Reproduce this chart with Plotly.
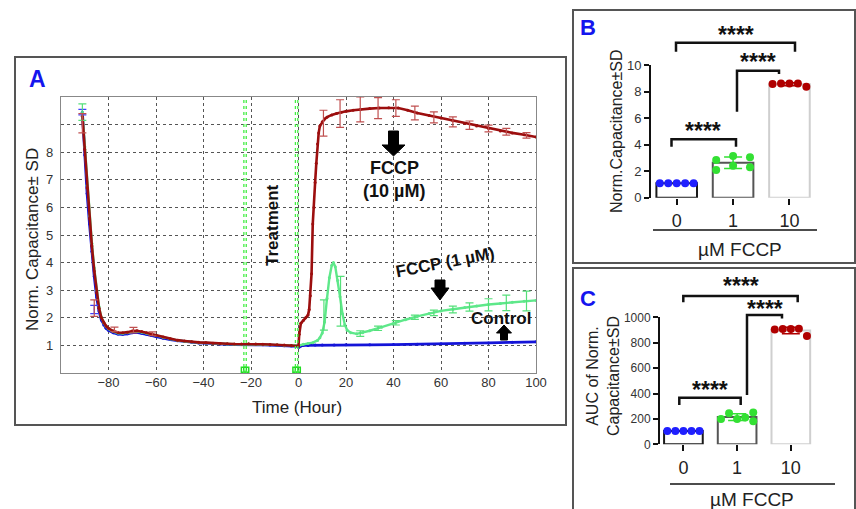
import numpy as np
import plotly.graph_objects as go

W, H = 856, 509
FONT = "Liberation Sans, Arial, sans-serif"

# ---------------- Panel A data (time in hours, normalized capacitance) ----------------
TIME_PRE = [-91, -90, -89, -88, -87, -86, -85, -84, -83, -82, -81, -80,
            -78, -76, -74, -72, -70, -68, -66, -64, -62, -60,
            -57, -54, -51, -48, -45, -42, -39, -36, -33, -30, -27, -24, -21, -18, -15, -12, -9, -6, -3, 0]
RED_PRE = [9.3, 8.1, 6.7, 5.6, 4.6, 3.7, 2.9, 2.35, 2.0, 1.82, 1.7, 1.62,
           1.52, 1.47, 1.46, 1.48, 1.52, 1.53, 1.5, 1.46, 1.41, 1.37,
           1.3, 1.24, 1.19, 1.16, 1.13, 1.11, 1.1, 1.08, 1.07, 1.06, 1.05, 1.05, 1.06, 1.05, 1.04, 1.03, 1.02, 1.01, 1.0, 0.98]
GREEN_PRE = [9.45, 8.2, 6.8, 5.7, 4.7, 3.8, 3.0, 2.4, 2.02, 1.82, 1.69, 1.6,
             1.5, 1.45, 1.44, 1.46, 1.5, 1.51, 1.48, 1.44, 1.4, 1.36,
             1.29, 1.23, 1.18, 1.15, 1.12, 1.1, 1.09, 1.07, 1.06, 1.05, 1.04, 1.04, 1.05, 1.04, 1.03, 1.02, 1.01, 1.0, 0.99, 0.98]
BLUE_PRE = [9.45, 7.9, 6.5, 5.4, 4.4, 3.5, 2.75, 2.25, 1.92, 1.74, 1.62, 1.55,
            1.46, 1.41, 1.40, 1.42, 1.46, 1.47, 1.44, 1.40, 1.36, 1.32,
            1.26, 1.21, 1.17, 1.14, 1.11, 1.09, 1.08, 1.06, 1.05, 1.04, 1.03, 1.03, 1.04, 1.03, 1.02, 1.01, 1.0, 0.99, 0.98, 0.97]

TIME_RED_POST = [0.3, 1, 2, 3, 4, 4.5, 5, 5.5, 6, 6.5, 7, 7.5, 8, 8.5, 9, 10, 11, 12, 14, 16,
                 18, 20, 23, 26, 30, 34, 38, 42, 46, 50, 55, 60, 65, 70, 75, 80, 85, 90, 95, 100]
RED_POST = [1.4, 1.8, 1.9, 2.0, 2.1, 2.3, 2.8, 3.6, 5.4, 6.0, 6.9, 7.6, 8.3, 8.7, 8.95, 9.1, 9.2, 9.27, 9.35, 9.4,
            9.45, 9.48, 9.52, 9.55, 9.58, 9.6, 9.61, 9.6, 9.52, 9.42, 9.33, 9.24, 9.14, 9.04, 8.95, 8.86, 8.77, 8.7, 8.63, 8.55]

TIME_GREEN_POST = [0.3, 2, 4, 6, 8, 9, 10, 11, 12, 13, 14, 14.7, 15.5, 16.5, 17.5, 18.5, 19.5, 20.5,
                   22, 24.5, 27, 30, 35, 40, 45, 50, 55, 60, 65, 70, 75, 80, 85, 90, 95, 100]
GREEN_POST = [1.0, 1.04, 1.07, 1.1, 1.18, 1.28, 1.45, 1.85, 2.7, 3.45, 3.9, 4.0, 3.85, 3.35, 2.76, 2.15, 1.75, 1.55,
              1.46, 1.42, 1.46, 1.53, 1.66, 1.8, 1.93, 2.05, 2.16, 2.25, 2.31, 2.37, 2.43, 2.48, 2.52, 2.56, 2.6, 2.63]

TIME_BLUE_POST = [0.3, 1, 2, 4, 7, 10, 15, 20, 30, 40, 50, 60, 70, 80, 90, 100]
BLUE_POST = [0.94, 0.98, 1.0, 1.0, 1.01, 1.01, 1.01, 1.02, 1.02, 1.03, 1.04, 1.06, 1.08, 1.09, 1.11, 1.13]

RED_ERR_T = [-91, -86, -77.5, -69.5, -61.5, 10.5, 17.5, 26, 33.5, 41, 49, 57, 65, 72, 80, 87.5, 96]
RED_ERR_Y = [9.05, 2.35, 1.58, 1.55, 1.42, 9.05, 9.4, 9.55, 9.6, 9.6, 9.42, 9.26, 9.1, 8.98, 8.86, 8.74, 8.61]
RED_ERR_SD = [0.35, 0.3, 0.08, 0.1, 0.07, 0.47, 0.5, 0.45, 0.38, 0.3, 0.25, 0.2, 0.18, 0.15, 0.12, 0.12, 0.1]

GREEN_ERR_T = [-91, 10.7, 17.7, 26, 33.5, 41, 49, 57, 65, 72, 80, 87.5, 96]
GREEN_ERR_Y = [9.45, 2.1, 2.6, 1.43, 1.62, 1.82, 2.02, 2.18, 2.3, 2.39, 2.47, 2.54, 2.61]
GREEN_ERR_SD = [0.3, 0.55, 0.9, 0.1, 0.08, 0.08, 0.08, 0.1, 0.12, 0.15, 0.22, 0.28, 0.36]

BLUE_ERR_T = [-91, -86]
BLUE_ERR_Y = [9.45, 2.3]
BLUE_ERR_SD = [0.1, 0.15]

EVENT_T = [-23, -22, -1.3, -0.3]

X_TICKS_A = [-80, -60, -40, -20, 0, 20, 40, 60, 80, 100]
Y_TICKS_A = [1, 2, 3, 4, 5, 6, 7, 8, 9]
Y_TICKTEXT_A = ["1", "2", "3", "4", "5", "6", "7", "8", ""]

# ---------------- Panels B / C data ----------------
CATS = ["0", "1", "10"]
B_CTRL = [1.09, 1.09, 1.09, 1.09, 1.09]
B_FCCP1 = [2.85, 2.09, 3.15, 2.42, 3.05, 2.3]
B_FCCP10 = [8.58, 8.63, 8.63, 8.63, 8.38]
C_CTRL = [105, 105, 105, 105, 105]
C_FCCP1 = [200, 244, 200, 211, 250, 181]
C_FCCP10 = [903, 908, 908, 910, 852]
B_YTICKS = [0, 2, 4, 6, 8, 10]
C_YTICKS = [0, 200, 400, 600, 800, 1000]

# ---------------- styles ----------------
RED_A, GREEN_A, BLUE_A = "#9c0e0e", "#5ee88a", "#1414d8"
RED_B, GREEN_B, BLUE_B = "#b00000", "#33e033", "#1f1fff"
BAR_EDGES = ["#1a1a1a", "#555555", "#cfcfcf"]


def px(x):
    return x / W


def py(y):
    return 1 - y / H


fig = go.Figure()

# ---- Panel A lines ----
for t_pre, v_pre, t_post, v_post, col, lw in [
    (TIME_PRE, BLUE_PRE, TIME_BLUE_POST, BLUE_POST, BLUE_A, 2.8),
    (TIME_PRE, GREEN_PRE, TIME_GREEN_POST, GREEN_POST, GREEN_A, 2.4),
    (TIME_PRE, RED_PRE, TIME_RED_POST, RED_POST, RED_A, 2.6),
]:
    fig.add_trace(go.Scatter(x=list(t_pre) + list(t_post), y=list(v_pre) + list(v_post),
                             mode="lines+markers", line=dict(color=col, width=lw),
                             marker=dict(size=3, color=col), xaxis="x", yaxis="y",
                             showlegend=False, hoverinfo="skip"))

for t, v, sd, col in [(BLUE_ERR_T, BLUE_ERR_Y, BLUE_ERR_SD, "#4040ff"),
                      (GREEN_ERR_T, GREEN_ERR_Y, GREEN_ERR_SD, "#55e07a"),
                      (RED_ERR_T, RED_ERR_Y, RED_ERR_SD, "#c05050")]:
    fig.add_trace(go.Scatter(x=t, y=v, mode="markers", marker=dict(size=1, color=col),
                             error_y=dict(type="data", array=sd, color=col, thickness=1.2, width=4),
                             xaxis="x", yaxis="y", showlegend=False, hoverinfo="skip"))

# event markers (green squares at the bottom)
fig.add_trace(go.Scatter(x=EVENT_T, y=[0.12] * len(EVENT_T), mode="markers",
                         marker=dict(symbol="square-open", size=5, color="#22dd22", line=dict(width=1.5)),
                         xaxis="x", yaxis="y", cliponaxis=False, showlegend=False, hoverinfo="skip"))

# ---- Panels B and C ----
def bar_panel(groups, xa, ya, green_offsets):
    cols = [BLUE_B, GREEN_B, RED_B]
    for i, vals in enumerate(groups):
        vals = np.array(vals, dtype=float)
        m, sd = vals.mean(), vals.std(ddof=1)
        fig.add_trace(go.Bar(x=[i], y=[m], width=0.72,
                             marker=dict(color="white", line=dict(color=BAR_EDGES[i], width=2)),
                             error_y=dict(type="data", array=[sd], color=cols[i], thickness=1.5, width=9,
                                          visible=bool(sd > 0)),
                             xaxis=xa, yaxis=ya, showlegend=False, hoverinfo="skip"))
    for i, vals in enumerate(groups):
        n = len(vals)
        offs = green_offsets if i == 1 else np.linspace(-0.3, 0.3, n)
        fig.add_trace(go.Scatter(x=i + np.array(offs), y=vals, mode="markers",
                                 marker=dict(size=8, color=cols[i]), xaxis=xa, yaxis=ya,
                                 cliponaxis=False, showlegend=False, hoverinfo="skip"))


bar_panel([B_CTRL, B_FCCP1, B_FCCP10], "x2", "y2", np.repeat(np.linspace(-0.3, 0.3, 3), 2))
bar_panel([C_CTRL, C_FCCP1, C_FCCP10], "x3", "y3", [-0.3, -0.15, 0, 0.15, 0.3, 0.3])

# ---------------- shapes ----------------
shapes = []
# panel frames
for x0, y0, x1, y1 in [(15, 57, 566, 425), (573, 10, 855, 263), (573, 268, 855, 512)]:
    shapes.append(dict(type="rect", xref="paper", yref="paper", x0=px(x0), x1=px(x1), y0=py(y0), y1=py(y1),
                       line=dict(color="#555555", width=2)))
# event lines in panel A
for t in EVENT_T:
    shapes.append(dict(type="line", xref="x", yref="y", x0=t, x1=t, y0=0, y1=10,
                       line=dict(color="#44ee44", width=1.3, dash="dot")))


def path_shape(pts, fill="black"):
    d = "M " + " L ".join(f"{px(a):.5f},{py(b):.5f}" for a, b in pts) + " Z"
    return dict(type="path", xref="paper", yref="paper", path=d, fillcolor=fill,
                line=dict(color=fill, width=1))


def down_arrow(cx, top, hs, bottom, bw, hw):
    return path_shape([(cx - bw, top), (cx + bw, top), (cx + bw, hs), (cx + hw, hs), (cx, bottom),
                       (cx - hw, hs), (cx - bw, hs)])


def up_arrow(cx, top, hs, bottom, bw, hw):
    return path_shape([(cx - bw, bottom), (cx + bw, bottom), (cx + bw, hs), (cx + hw, hs), (cx, top),
                       (cx - hw, hs), (cx - bw, hs)])


shapes.append(down_arrow(393.5, 131, 145, 156, 5, 11.5))
shapes.append(down_arrow(440, 280, 288, 300, 5, 9))
shapes.append(up_arrow(504, 325, 333, 340, 3.5, 7.5))


def bracket(x0, x1, ytop, yl, yr):
    return dict(type="path", xref="paper", yref="paper",
                path=f"M {px(x0):.5f},{py(yl):.5f} L {px(x0):.5f},{py(ytop):.5f} "
                     f"L {px(x1):.5f},{py(ytop):.5f} L {px(x1):.5f},{py(yr):.5f}",
                line=dict(color="#111111", width=2.5))


# B brackets
shapes.append(bracket(676, 795, 42.7, 51.7, 51.7))
shapes.append(bracket(737, 779, 70.7, 111.7, 74))
shapes.append(bracket(671.5, 736, 139.3, 146.7, 146.7))
# C brackets
shapes.append(bracket(683.3, 797.7, 296, 302.3, 302.3))
shapes.append(bracket(747, 782, 315, 395, 318.5))
shapes.append(bracket(679.3, 740.7, 397.7, 405, 405))
# under-axis lines
shapes.append(dict(type="line", xref="paper", yref="paper", x0=px(653), x1=px(817), y0=py(230), y1=py(230),
                   line=dict(color="#111111", width=1.5)))
shapes.append(dict(type="line", xref="paper", yref="paper", x0=px(670), x1=px(835), y0=py(484), y1=py(484),
                   line=dict(color="#111111", width=1.5)))

# ---------------- annotations ----------------
ann = []


def text(x, y, s, size, color="#222222", bold=False, angle=0, family=FONT):
    ann.append(dict(x=px(x), y=py(y), xref="paper", yref="paper", text=f"<b>{s}</b>" if bold else s,
                    showarrow=False, xanchor="center", yanchor="middle", textangle=angle,
                    font=dict(family=family, size=size, color=color)))


text(37, 79, "A", 23, "#1515ee", bold=True)
text(588, 27, "B", 22, "#1515ee", bold=True)
text(588, 298, "C", 22, "#1515ee", bold=True)
text(32, 240, "Norm. Capacitance± SD", 17, angle=-90)
text(297, 407, "Time (Hour)", 17)
text(273, 225, "Treatment", 17, "#111111", bold=True, angle=-90)
text(394, 168, "FCCP", 18, "#111111", bold=True)
text(394, 191, "(10 µM)", 18, "#111111", bold=True)
text(445, 262, "FCCP (1 µM)", 17, "#111111", bold=True, angle=-11)
text(501, 318, "Control", 17, "#111111", bold=True)
text(617, 131, "Norm.Capacitance±SD", 16, angle=-90)
text(603, 376, "AUC of Norm.<br>Capacitance±SD", 16, angle=-90)
text(740, 249, "µM FCCP", 19)
text(752, 499, "µM FCCP", 19)
for (x, y) in [(736, 35), (758, 62), (703, 131), (741, 286), (765, 309), (710, 390)]:
    text(x, y, "****", 23, "#111111", bold=True)

# ---------------- layout ----------------
grid = dict(showgrid=True, griddash="dot", gridcolor="#555555", gridwidth=1)
fig.update_layout(
    width=W, height=H, autosize=False, margin=dict(l=0, r=0, t=0, b=0, autoexpand=False),
    paper_bgcolor="white", plot_bgcolor="white", barmode="overlay",
    font=dict(family=FONT),
    xaxis=dict(domain=[px(61), px(536)], range=[-100, 100], tickvals=X_TICKS_A, anchor="y",
               showline=True, mirror=True, linecolor="#888888", linewidth=1.2, zeroline=False,
               ticks="", ticklabelstandoff=-3, tickfont=dict(size=13, color="#333333"), **grid),
    yaxis=dict(domain=[py(373), py(97)], range=[0, 10], tickvals=Y_TICKS_A, ticktext=Y_TICKTEXT_A, anchor="x",
               showline=True, mirror=True, linecolor="#888888", linewidth=1.2, zeroline=False,
               ticks="", ticklabelstandoff=4, tickfont=dict(size=13, color="#333333"), **grid),
    xaxis2=dict(domain=[px(651), px(812)], range=[-0.456, 2.4], tickvals=[0, 1, 2], ticktext=CATS,
                anchor="y2", showline=False, showgrid=False, zeroline=False, ticks="outside", ticklen=6,
                tickwidth=2, tickcolor="#111111", ticklabelstandoff=1, tickfont=dict(size=18, color="#222222")),
    yaxis2=dict(domain=[py(197.7), py(65.3)], range=[0, 10], tickvals=B_YTICKS, anchor="x2",
                showline=True, linecolor="#111111", linewidth=2, showgrid=False, zeroline=False,
                ticks="outside", ticklen=5, tickwidth=2, tickcolor="#111111",
                tickfont=dict(size=13, color="#333333")),
    xaxis3=dict(domain=[px(660), px(815)], range=[-0.436, 2.45], tickvals=[0, 1, 2], ticktext=CATS,
                anchor="y3", showline=False, showgrid=False, zeroline=False, ticks="outside", ticklen=6,
                tickwidth=2, tickcolor="#111111", ticklabelstandoff=1, tickfont=dict(size=18, color="#222222")),
    yaxis3=dict(domain=[py(444.3), py(317.3)], range=[0, 1000], tickvals=C_YTICKS, anchor="x3",
                showline=True, linecolor="#111111", linewidth=2, showgrid=False, zeroline=False,
                ticks="outside", ticklen=5, tickwidth=2, tickcolor="#111111",
                tickfont=dict(size=12, color="#333333")),
    shapes=shapes, annotations=ann,
)

POST = (
    "document.documentElement.style.margin='0';"
    "document.documentElement.style.overflow='hidden';"
    "document.body.style.margin='0';"
    "document.body.style.overflow='hidden';"
    "document.querySelectorAll('.plotly-graph-div').forEach(function(d){d.style.overflow='hidden';});"
    "document.querySelectorAll('.svg-container').forEach(function(e){e.style.display='block';});"
)
fig.write_html("out.html", config={"displayModeBar": False}, post_script=POST)
